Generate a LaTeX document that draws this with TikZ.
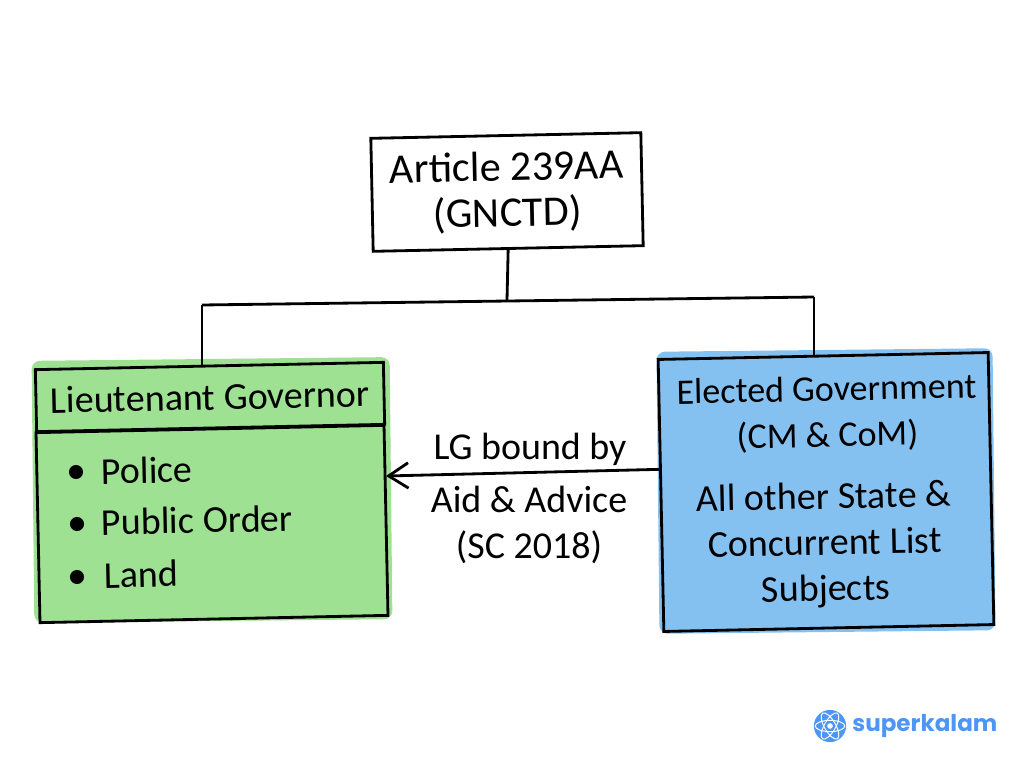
\documentclass[tikz,border=0pt]{standalone}
\usepackage{fontspec}
\setmainfont{Carlito}
\newfontfamily\logofont{Poppins}
\usetikzlibrary{arrows.meta}
\definecolor{wash_green}{RGB}{158,225,146}
\definecolor{wash_blue}{RGB}{133,193,240}
\definecolor{logo_blue}{RGB}{78,150,245}
\newcommand\handsize{\fontsize{27}{32.7}\selectfont}
\newcommand\handtitle{\fontsize{25.6}{32.7}\selectfont}
\newcommand\handbig{\fontsize{30}{32.7}\selectfont}
\begin{document}
\begin{tikzpicture}[x=0.025cm,y=-0.025cm,line width=2pt,>={Straight Barb[length=14pt,width=18pt,line width=2pt]}]
    \tikzstyle{label}=[text=black,font=\handsize,align=center,inner sep=0pt]
    \tikzstyle{sketchbox}=[draw=black,rectangle,rotate=1.2,outer sep=0pt,inner sep=0pt,font=\handsize,align=center]
    \tikzstyle{wash}=[rectangle,rounded corners=6pt,rotate=0.6,inner sep=0pt]
    \tikzstyle{washgreen}=[style=wash,fill=wash_green,minimum width=8.95cm,minimum height=6.55cm]
    \tikzstyle{washblue}=[style=wash,fill=wash_blue,minimum width=8.4cm,minimum height=7.05cm]
    \tikzstyle{lgpart}=[style=sketchbox,minimum width=8.7cm]
    \tikzstyle{listdot}=[circle,fill=black,inner sep=0pt,minimum size=10pt]
    \tikzstyle{listitem}=[style=label,anchor=west,rotate=1.2]
    \tikzstyle{junction}=[coordinate]

    \useasboundingbox (0,0) rectangle (1024,768);

    \node[washgreen]                      (lgwash) at (212,490) {};
    \node[washblue]                       (egwash) at (826,491) {};

    \node[sketchbox,font=\handbig,minimum width=6.75cm,minimum height=2.825cm] (article) at (507,192) {Article 239AA\\(GNCTD)};
    \node[lgpart,minimum height=1.55cm]   (lghead) at (210,397) {Lieutenant Governor};
    \node[lgpart,minimum height=4.75cm]   (lgbody) at (212,524) {};
    \node[sketchbox,minimum width=8.25cm,minimum height=6.8cm]   (egbox)  at (826,492) {};

    \node[label,font=\handtitle,rotate=1.2] (egtitle) at (827,414) {Elected Government\\(CM \& CoM)};
    \node[label,rotate=1.2]               (egtext)  at (825,545) {All other State \&\\Concurrent List\\Subjects};

    \node[listdot]                        (dotA) at (76,472) {};
    \node[listdot]                        (dotB) at (77,524) {};
    \node[listdot]                        (dotC) at (77,577) {};
    \node[listitem]                       (itemA) at (100,471) {Police};
    \node[listitem]                       (itemB) at (100,522) {Public Order};
    \node[listitem]                       (itemC) at (103,575) {Land};

    \node[label]                          (bound)  at (530,449) {LG bound by};
    \node[label]                          (advice) at (529,525) {Aid \& Advice\\(SC 2018)};

    \node[junction] (busm) at (507,300) {};
    \node[junction] (busl) at (202,305) {};
    \node[junction] (busr) at (814,297) {};

    \path[-]
     (article.south) edge (busm)
     (busl) edge (busr)
     (busl) edge (busl |- lghead.north)
     (busr) edge (busr |- egbox.north);
    \path[->]
     (egbox.171.5) edge (lgbody.east |- 386,476);

    \node[circle,fill=logo_blue,inner sep=0pt,minimum size=32\pgflinewidth/2.8] (logo) at (830,726) {};
    \node[circle,fill=white,inner sep=0pt,minimum size=4pt] (logocore) at (logo) {};
    \draw[white,line width=0.7pt] (logo) ellipse[x radius=10.5pt,y radius=4pt];
    \draw[white,line width=0.7pt,rotate around={60:(logo)}] (logo) ellipse[x radius=10.5pt,y radius=4pt];
    \draw[white,line width=0.7pt,rotate around={-60:(logo)}] (logo) ellipse[x radius=10.5pt,y radius=4pt];
    \node[text=logo_blue,font=\logofont\bfseries\fontsize{16.4}{20}\selectfont,anchor=west,inner sep=0pt] (brand) at (851,726) {superkalam};
\end{tikzpicture}
\end{document}
